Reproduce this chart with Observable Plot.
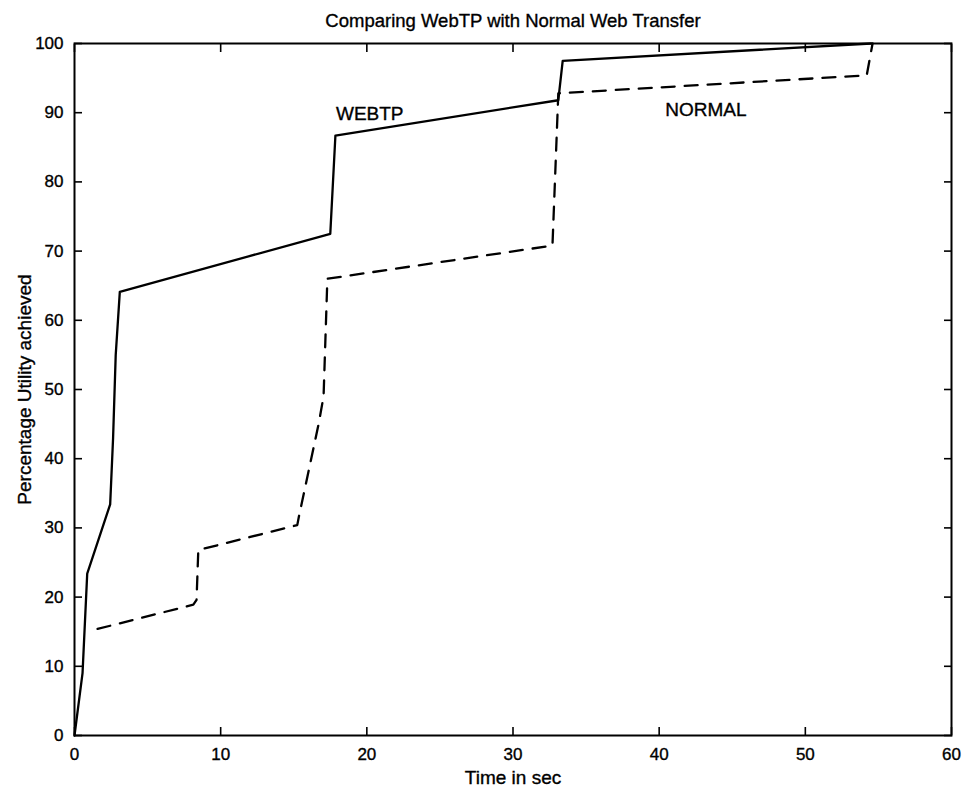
<!DOCTYPE html>
<html>
<head>
<meta charset="utf-8">
<script src="https://cdn.jsdelivr.net/npm/d3@7"></script>
<script src="https://cdn.jsdelivr.net/npm/@observablehq/plot@0.6"></script>
<style>
  html, body { margin: 0; padding: 0; background: #fff; }
  #chart svg { display: block; }
  #chart svg text { stroke: black; stroke-width: 0.35px; }
</style>
</head>
<body>
<div id="chart"></div>
<script>
// ---- data ----
const titleText = "Comparing WebTP with Normal Web Transfer";
const xLabelText = "Time in sec";
const yLabelText = "Percentage Utility achieved";

const xTicks = [0, 10, 20, 30, 40, 50, 60];
const yTicks = [0, 10, 20, 30, 40, 50, 60, 70, 80, 90, 100];

// WEBTP (solid)
const webtpTime    = [0, 0.55, 0.87, 2.44, 2.64, 2.82, 3.1, 17.5, 17.85, 33.1, 33.4, 54.5];
const webtpUtility = [0, 9.0, 23.4, 33.4, 43.0, 55.0, 64.1, 72.5, 86.7, 91.8, 97.5, 100];

// NORMAL (dashed)
const normalTime    = [1.58, 8.13, 8.35, 8.47, 15.24, 15.35, 16.7, 17.04, 17.3, 32.7, 33.1, 54.2, 54.6];
const normalUtility = [15.4, 18.9, 19.6, 26.8, 30.4, 31.6, 45.0, 49.0, 66.0, 70.8, 92.8, 95.4, 100];

// series labels
const labelText = ["WEBTP", "NORMAL"];
const labelTime = [20.2, 43.2];
const labelUtility = [88.9, 89.5];

// ---- build tables ----
const webtp = webtpTime.map((t, i) => ({time: t, utility: webtpUtility[i]}));
const normal = normalTime.map((t, i) => ({time: t, utility: normalUtility[i]}));
const labels = labelText.map((s, i) => ({text: s, time: labelTime[i], utility: labelUtility[i]}));

const chart = Plot.plot({
  width: 969,
  height: 791,
  marginLeft: 74,
  marginRight: 18,
  marginTop: 43,
  marginBottom: 56,
  style: {fontFamily: "'Liberation Sans', Arial, Helvetica, sans-serif", fontSize: "17px", color: "black", background: "white"},
  x: {domain: [0, 60]},
  y: {domain: [0, 100]},
  marks: [
    Plot.axisX({ticks: xTicks, tickSize: -8, tickPadding: 20, label: null, strokeWidth: 1.6, fontSize: 17}),
    Plot.axisX({anchor: "top", ticks: xTicks, tickSize: -8, tickFormat: () => "", label: null, strokeWidth: 1.6}),
    Plot.axisY({ticks: yTicks, tickSize: -8, tickPadding: 19, label: null, strokeWidth: 1.6, fontSize: 17}),
    Plot.axisY({anchor: "right", ticks: yTicks, tickSize: -8, tickFormat: () => "", label: null, strokeWidth: 1.6}),
    Plot.frame({stroke: "black", strokeWidth: 2}),
    Plot.line(webtp, {x: "time", y: "utility", stroke: "black", strokeWidth: 2.3}),
    Plot.line(normal, {x: "time", y: "utility", stroke: "black", strokeWidth: 2.3, strokeDasharray: "13,10"}),
    Plot.text(labels, {x: "time", y: "utility", text: "text", lineAnchor: "bottom", textAnchor: "middle", fontSize: 19, fill: "black"}),
    Plot.text([titleText], {frameAnchor: "top", dy: -17, lineAnchor: "bottom", textAnchor: "middle", fontSize: 18.5, fill: "black"}),
    Plot.text([xLabelText], {frameAnchor: "bottom", dy: 48, lineAnchor: "bottom", textAnchor: "middle", fontSize: 19, fill: "black"}),
    Plot.text([yLabelText], {frameAnchor: "left", dx: -44, rotate: -90, lineAnchor: "bottom", textAnchor: "middle", fontSize: 19, fill: "black"})
  ]
});
document.getElementById("chart").appendChild(chart);
</script>
</body>
</html>
